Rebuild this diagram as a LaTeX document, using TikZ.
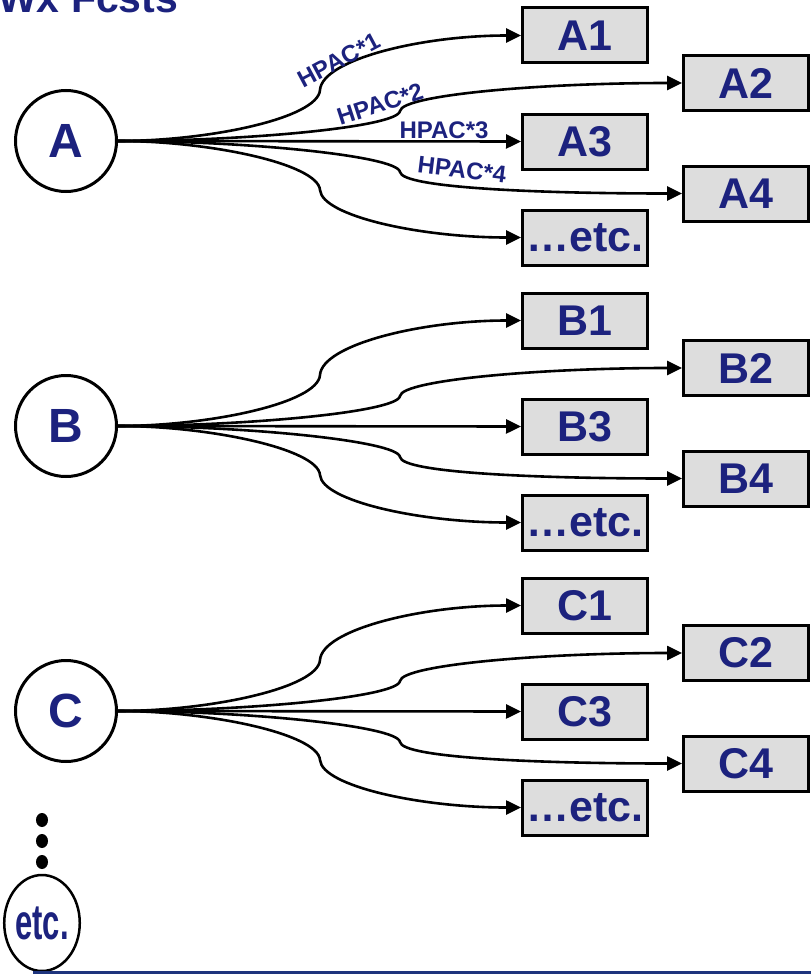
\documentclass[tikz,border=0pt]{standalone}
\usepackage{fontspec}
\setmainfont{Liberation Sans}
\usetikzlibrary{arrows.meta,shapes.geometric}
\definecolor{navy}{RGB}{28,34,126}
\definecolor{boxgray}{RGB}{221,221,221}
\definecolor{rulecol}{RGB}{30,52,125}
\begin{document}
\begin{tikzpicture}[x=1pt,y=-1pt,
  src/.style={circle,draw,line width=3pt,minimum size=101pt,inner sep=0pt,
    font=\fontsize{48}{48}\selectfont\bfseries,text=navy},
  tgt/.style={rectangle,draw,line width=3pt,fill=boxgray,minimum width=125pt,
    minimum height=55pt,inner sep=0pt,font=\fontsize{43}{43}\selectfont\bfseries,text=navy},
  conn/.style={line width=2.6pt,-{Triangle[length=15pt,width=14pt]}},
  lbl/.style={font=\fontsize{24}{24}\selectfont\bfseries,text=navy,inner sep=0pt},
  dotn/.style={ellipse,fill=black,minimum width=12pt,minimum height=14pt,inner sep=0pt}]
\useasboundingbox (0,0) rectangle (811,974);

\node[anchor=base west,inner sep=0pt,font=\fontsize{41}{41}\selectfont\bfseries,text=navy]
  (title) at (-2,13) {Wx Fcsts};

\foreach \g/\y in {A/141,B/426,C/711}{
  \node[src] (\g) at (66,\y) {\g};
  \node[tgt] (\g1) at (585,{\y-105.5}) {\g1};
  \node[tgt] (\g2) at (746,{\y-58}) {\g2};
  \node[tgt] (\g3) at (585,{\y+0.5}) {\g3};
  \node[tgt] (\g4) at (746,{\y+52.5}) {\g4};
  \node[tgt] (\g5) at (585,{\y+96.5}) {\ldots etc.};
  \coordinate (k1\g) at (320,{\y-51});
  \coordinate (k2\g) at (400,{\y-30});
  \coordinate (k4\g) at (400,{\y+31});
  \coordinate (k5\g) at (320,{\y+49});
  \draw[conn] (\g.east) .. controls +(92,0) and +(-2,28) .. (k1\g)
     .. controls +(2,-30) and +(-101,0) .. (\g1.west);
  \draw[conn] (\g.east) .. controls +(130,0) and +(-2,16) .. (k2\g)
     .. controls +(2,-16) and +(-142,0) .. (\g2.west);
  \draw[conn] (\g.east) -- (\g3.west);
  \draw[conn] (\g.east) .. controls +(130,0) and +(-2,-16) .. (k4\g)
     .. controls +(2,16) and +(-142,0) .. (\g4.west);
  \draw[conn] (\g.east) .. controls +(92,0) and +(-2,-26) .. (k5\g)
     .. controls +(2,26) and +(-101,0) .. (\g5.west);
}

\node[lbl,rotate=28] (h1) at (339,60) {HPAC*1};
\node[lbl,rotate=18] (h2) at (380,104) {HPAC*2};
\node[lbl] (h3) at (444,130) {HPAC*3};
\node[lbl,rotate=-7] (h4) at (462,170) {HPAC*4};

\node[dotn] (d1) at (42,820) {};
\node[dotn] (d2) at (42,841) {};
\node[dotn] (d3) at (42,862) {};

\node[ellipse,draw,line width=2.5pt,minimum width=66pt,minimum height=96pt,inner sep=0pt,
  font=\fontsize{50}{50}\selectfont\bfseries,text=navy] (etc) at (42,923)
  {\raisebox{-3pt}{\scalebox{0.62}[1]{etc.}}};

\coordinate (r1) at (33,972.5);
\coordinate (r2) at (811,972.5);
\draw[rulecol,line width=3.5pt] (r1) -- (r2);
\end{tikzpicture}
\end{document}
